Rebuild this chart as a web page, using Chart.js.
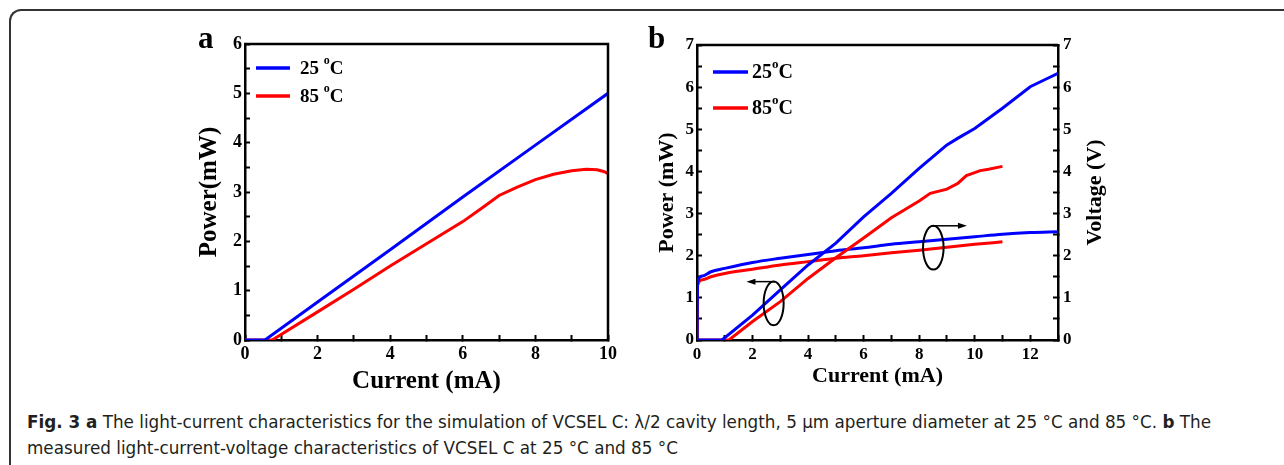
<!DOCTYPE html>
<html>
<head>
<meta charset="utf-8">
<script src="https://cdn.jsdelivr.net/npm/chart.js@4.4.1/dist/chart.umd.min.js"></script>
<style>
body{margin:0;width:1284px;height:465px;background:#fff;position:relative;overflow:hidden}
#frame{position:absolute;left:9px;top:9px;width:1320px;height:520px;border-top:2px solid #333;border-left:2px solid #333;border-top-left-radius:12px}
#boxA{position:absolute;left:180px;top:20px;width:450px;height:380px}
#boxB{position:absolute;left:630px;top:20px;width:490px;height:380px}
.cap{position:absolute;left:27px;font-family:"Liberation Sans Narrow","DejaVu Sans Condensed",sans-serif;font-size:17.5px;color:#231f20;white-space:nowrap;transform-origin:0 0}
</style>
</head>
<body>
<div id="frame"></div>
<div id="boxA"><canvas id="chartA"></canvas></div>
<div id="boxB"><canvas id="chartB"></canvas></div>
<div class="cap" id="cap1" style="top:412px"><b>Fig. 3 a</b> The light-current characteristics for the simulation of VCSEL C: λ/2 cavity length, 5 μm aperture diameter at 25 °C and 85 °C. <b>b</b> The</div>
<div class="cap" id="cap2" style="top:438px">measured light-current-voltage characteristics of VCSEL C at 25 °C and 85 °C</div>
<script>
// ===== PANEL A : simulation =====
let aNames=['25 °C','85 °C']
let aCur25=[0,0.55,2,4,6,8,10]
let aPow25=[0,0,0.77,1.83,2.9,3.95,5.0]
let aCur85=[0,0.75,2,3,4,5,6,6.5,7,7.5,8,8.5,9,9.4,9.7,9.9,10]
let aPow85=[0,0,0.57,1.03,1.5,1.95,2.4,2.66,2.93,3.1,3.25,3.36,3.43,3.46,3.45,3.41,3.37]
let aXLabels=[0,2,4,6,8,10]
let aYLabels=[0,1,2,3,4,5,6]

// ===== PANEL B : measured =====
let bNames=['25°C','85°C']
let bCurP25=[0,0.9,2,3,4,5,6,7,8,9,9.4,10,11,12,12.5,13]
let bPow25=[0,0,0.59,1.19,1.78,2.3,2.92,3.48,4.07,4.63,4.79,5.02,5.5,6.01,6.17,6.33]
let bCurP85=[0,1.15,2,3,4,5,6,7,8,8.4,9,9.4,9.7,10,10.2,10.5,11]
let bPow85=[0,0,0.44,0.91,1.46,1.95,2.42,2.9,3.3,3.48,3.58,3.72,3.9,3.97,4.02,4.05,4.12]
let bCurV25=[0,0.02,0.2,0.5,1,2,3,4,5,6,7,8,9,10,11,12,13]
let bVol25=[0,1.38,1.52,1.62,1.7,1.84,1.94,2.03,2.12,2.19,2.27,2.33,2.39,2.45,2.51,2.55,2.57]
let bCurV85=[0,0.02,0.2,0.5,1,2,3,4,5,6,7,8,9,10,11]
let bVol85=[0,1.3,1.43,1.5,1.58,1.68,1.78,1.86,1.94,2.0,2.07,2.13,2.2,2.27,2.33]
let bXLabels=[0,2,4,6,8,10,12]
let bYLabels=[0,1,2,3,4,5,6,7]

const serif='"Liberation Serif","Times New Roman",serif'
const pts=(xs,ys)=>xs.map((x,i)=>({x:x,y:ys[i]}))

function degText(ctx,txt,x,y,size){
    let parts=txt.split('°')
    ctx.font='bold '+size+'px '+serif
    ctx.fillText(parts[0],x,y)
    x+=ctx.measureText(parts[0]).width
    if(parts.length>1){
        ctx.font='bold '+Math.round(size*0.65)+'px '+serif
        ctx.fillText('o',x,y-size*0.42)
        x+=ctx.measureText('o').width
        ctx.font='bold '+size+'px '+serif
        ctx.fillText(parts[1],x,y)
    }
}

// draws frame top/right, panel letter, legend, right title, ellipse marks
const extras={
    id:'extras',
    afterDraw(chart,args,o){
        let ctx=chart.ctx, ca=chart.chartArea
        ctx.save()
        ctx.strokeStyle='#000'
        ctx.lineWidth=2.5
        ctx.beginPath()
        ctx.moveTo(ca.left-1,ca.top)
        ctx.lineTo(ca.right,ca.top)
        if(o.closeRight) ctx.lineTo(ca.right,ca.bottom)
        ctx.stroke()

        ctx.fillStyle='#000'
        ctx.textAlign='left'
        ctx.textBaseline='alphabetic'
        ctx.font='bold 31px '+serif
        ctx.fillText(o.letter,o.letterX,o.letterY)

        // legend
        o.legend.forEach((idx,k)=>{
            let ds=chart.data.datasets[idx]
            let y=ca.top+o.legY+k*o.legGap
            ctx.strokeStyle=ds.borderColor
            ctx.lineWidth=3.5
            ctx.beginPath()
            ctx.moveTo(ca.left+o.legX1,y)
            ctx.lineTo(ca.left+o.legX2,y)
            ctx.stroke()
            ctx.fillStyle='#000'
            ctx.textBaseline='middle'
            degText(ctx,ds.label,ca.left+o.legText,y+1,o.legSize)
        })

        if(o.rightTitle){
            ctx.save()
            ctx.translate(o.rightTitleX,(ca.top+ca.bottom)/2)
            ctx.rotate(-Math.PI/2)
            ctx.textAlign='center'
            ctx.textBaseline='middle'
            ctx.font='bold 22px '+serif
            ctx.fillText(o.rightTitle,0,0)
            ctx.restore()
        }

        if(o.marks){
            let xs=chart.scales.x, ys=chart.scales.y
            ctx.strokeStyle='#000'
            ctx.fillStyle='#000'
            ctx.lineWidth=2
            o.marks.ellipses.forEach(e=>{
                let cx=xs.getPixelForValue(e.x), cy=ys.getPixelForValue(e.y)
                let rx=Math.abs(xs.getPixelForValue(e.x+e.rx)-cx)
                let ry=Math.abs(ys.getPixelForValue(e.y+e.ry)-cy)
                ctx.beginPath()
                ctx.ellipse(cx,cy,rx,ry,0,0,Math.PI*2)
                ctx.stroke()
            })
            ctx.lineWidth=1.5
            o.marks.arrows.forEach(a=>{
                let x1=xs.getPixelForValue(a.from), x2=xs.getPixelForValue(a.to), y=ys.getPixelForValue(a.y)
                let d=Math.sign(x2-x1)
                ctx.beginPath()
                ctx.moveTo(x1,y)
                ctx.lineTo(x2-d*6,y)
                ctx.stroke()
                ctx.beginPath()
                ctx.moveTo(x2,y)
                ctx.lineTo(x2-d*9,y-3)
                ctx.lineTo(x2-d*9,y+3)
                ctx.closePath()
                ctx.fill()
            })
        }
        ctx.restore()
    }
}

function axisX(max,labels,tfont,tsize,titlePad){
    return {
        type:'linear',min:0,max:max,
        ticks:{stepSize:1,autoSkip:false,maxRotation:0,padding:9,color:'#000',
            font:{family:serif,weight:'bold',size:tsize},
            callback:v=>labels.includes(v)?String(v):''},
        grid:{drawOnChartArea:false,drawTicks:true,tickLength:-5,tickColor:'#000',tickWidth:2},
        border:{color:'#000',width:2.5},
        title:{display:true,text:'Current (mA)',color:'#000',
            font:{family:serif,weight:'bold',size:tfont,lineHeight:1.2},
            padding:{top:0,bottom:titlePad}},
        afterFit:s=>{s.height=60}
    }
}

function axisY(pos,max,labels,tsize,width,title,tfont,titlePad){
    return {
        type:'linear',position:pos,min:0,max:max,
        ticks:{stepSize:0.5,autoSkip:false,padding:pos=='left'?8:10,color:'#000',
            font:{family:serif,weight:'bold',size:tsize},
            callback:v=>labels.includes(v)?String(v):''},
        grid:{drawOnChartArea:false,drawTicks:true,tickLength:-5,tickColor:'#000',tickWidth:2},
        border:{color:'#000',width:2.5},
        title:{display:!!title,text:title,color:'#000',
            font:{family:serif,weight:'bold',size:tfont,lineHeight:1.2},
            padding:{top:titlePad,bottom:0}},
        afterFit:s=>{s.width=width}
    }
}

const straight={pointRadius:0,borderWidth:3,fill:false,tension:0}
const smooth={pointRadius:0,borderWidth:3,fill:false,cubicInterpolationMode:'monotone'}

let chartA=new Chart(document.getElementById('chartA'),{
    type:'line',
    data:{datasets:[
        Object.assign({label:aNames[0],data:pts(aCur25,aPow25),borderColor:'#0000ff'},straight),
        Object.assign({label:aNames[1],data:pts(aCur85,aPow85),borderColor:'#ff0000'},straight)
    ]},
    options:{
        responsive:true,maintainAspectRatio:false,animation:false,
        layout:{padding:{left:0,top:24,right:22,bottom:0}},
        plugins:{legend:{display:false},tooltip:{enabled:false},
            extras:{closeRight:true,letter:'a',letterX:18,letterY:28,
                legend:[0,1],legX1:11,legX2:45,legText:55,legY:24,legGap:28,legSize:19}},
        scales:{
            x:axisX(10,aXLabels,25,18,3),
            y:axisY('left',6,aYLabels,18,65,'Power(mW)',25,15)
        }
    },
    plugins:[extras]
})

let chartB=new Chart(document.getElementById('chartB'),{
    type:'line',
    data:{datasets:[
        Object.assign({label:bNames[0],data:pts(bCurP25,bPow25),borderColor:'#0000ff',yAxisID:'y'},straight),
        Object.assign({label:bNames[1],data:pts(bCurP85,bPow85),borderColor:'#ff0000',yAxisID:'y'},straight),
        Object.assign({label:bNames[0],data:pts(bCurV25,bVol25),borderColor:'#0000ff',yAxisID:'y2'},smooth),
        Object.assign({label:bNames[1],data:pts(bCurV85,bVol85),borderColor:'#ff0000',yAxisID:'y2'},smooth)
    ]},
    options:{
        responsive:true,maintainAspectRatio:false,animation:false,
        layout:{padding:{left:0,top:25,right:0,bottom:0}},
        plugins:{legend:{display:false},tooltip:{enabled:false},
            extras:{closeRight:false,letter:'b',letterX:18,letterY:28,
                legend:[0,1],legX1:16,legX2:51,legText:55,legY:27,legGap:36,legSize:20,
                rightTitle:'Voltage (V)',rightTitleX:465,
                marks:{
                    ellipses:[{x:2.76,y:0.87,rx:0.36,ry:0.52},{x:8.51,y:2.19,rx:0.37,ry:0.52}],
                    arrows:[{from:2.8,to:1.78,y:1.385},{from:8.44,to:9.72,y:2.71}]
                }}},
        scales:{
            x:axisX(13,bXLabels,22,17,10),
            y:axisY('left',7,bYLabels,17,67,'Power (mW)',22,24),
            y2:axisY('right',7,bYLabels,17,62,'',22,0)
        }
    },
    plugins:[extras]
})

// squeeze caption to the width of the original
let c1=document.getElementById('cap1'), c2=document.getElementById('cap2')
let k=1184/c1.getBoundingClientRect().width
c1.style.transform='scaleX('+k+')'
c2.style.transform='scaleX('+k+')'
</script>
</body>
</html>
